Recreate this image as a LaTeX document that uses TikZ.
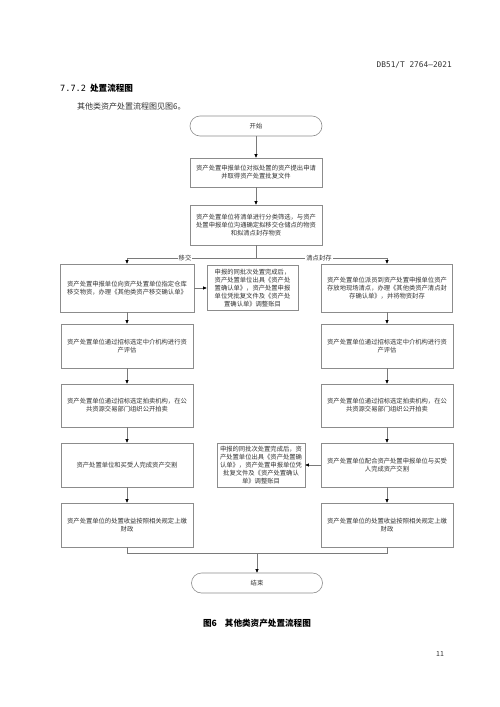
\documentclass[tikz,border=0pt]{standalone}
\usepackage{fontspec}
\setmainfont{Noto Sans CJK SC}
\newfontfamily\cjk{Noto Sans CJK SC}
\newfontfamily\monof{DejaVu Sans Mono}
\usetikzlibrary{arrows.meta}
\definecolor{boxgray}{HTML}{8C8C8C}
\definecolor{linegray}{HTML}{7A7A7A}
\definecolor{textgray}{HTML}{333333}
\tikzset{
  box/.style={draw=boxgray, line width=0.6pt, fill=white, minimum width=132pt, minimum height=44pt, align=center, inner sep=1pt, font=\cjk\fontsize{6.3}{8}\selectfont, text=textgray},
  notebox/.style={box, minimum width=90pt, minimum height=45pt},
  term/.style={box, rounded corners=10pt, minimum height=20pt},
  conn/.style={draw=linegray, line width=0.6pt},
  arr/.style={conn, -{Triangle[length=3.5pt,width=3pt,color=black]}},
  lab/.style={fill=white, inner sep=1pt, font=\cjk\fontsize{6.3}{8}\selectfont, text=textgray},
}
\begin{document}
\begin{tikzpicture}[x=1pt,y=-1pt]
\fill[white] (0,0) rectangle (500,707);
\useasboundingbox (0,0) rectangle (500,707);

% page texts
\node[anchor=east, inner sep=0, font=\monof\fontsize{7.8}{9}\selectfont, text=textgray] (hdr) at (452,65) {DB51/T 2764—2021};
\node[anchor=west, inner sep=0, font=\fontsize{8.6}{10}\selectfont, text=black] (sec) at (60,88) {{\monof 7.7.2}\hspace{4pt}\textbf{处置流程图}};
\node[anchor=west, inner sep=0, font=\fontsize{8}{10}\selectfont, text=textgray] (intro) at (77,106) {其他类资产处置流程图见图6。};
\node[inner sep=0, font=\fontsize{8.6}{10}\selectfont\bfseries, text=black] (cap) at (257,623) {图6\hspace{8pt}其他类资产处置流程图};
\node[inner sep=0, font=\fontsize{7}{9}\selectfont, text=textgray] (pg) at (440,654) {11};

% main column
\node[term] (start) at (256,126) {开始};
\node[box, minimum height=29pt] (b1) at (256,172.5) {资产处置申报单位对拟处置的资产提出申请\\并取得资产处置批复文件};
\node[box, minimum height=40pt] (b2) at (256,225) {资产处置单位将清单进行分类筛选，与资产\\处置申报单位沟通确定拟移交仓储点的物资\\和拟清点封存物资};

% left column
\node[box, minimum width=134pt, minimum height=48pt] (L1) at (127,288) {资产处置申报单位向资产处置单位指定仓库\\移交物资，办理《其他类资产移交确认单》};
\node[box] (L2) at (127,346) {资产处置单位通过招标选定中介机构进行资\\产评估};
\node[box, minimum height=43pt] (L3) at (127,405.5) {资产处置单位通过招标选定拍卖机构，在公\\共资源交易部门组织公开拍卖};
\node[box] (L4) at (127,465) {资产处置单位和买受人完成资产交割};
\node[box] (L5) at (127,525) {资产处置单位的处置收益按照相关规定上缴\\财政};

% right column
\node[box, minimum width=131pt, minimum height=48pt] (R1) at (387,288) {资产处置单位派员到资产处置申报单位资产\\存放地现场清点，办理《其他类资产清点封\\存确认单》，并将物资封存};
\node[box] (R2) at (387,346) {资产处置单位通过招标选定中介机构进行资\\产评估};
\node[box, minimum height=43pt] (R3) at (387,405.5) {资产处置单位通过招标选定拍卖机构，在公\\共资源交易部门组织公开拍卖};
\node[box] (R4) at (387,465) {资产处置单位配合资产处置申报单位与买受\\人完成资产交割};
\node[box] (R5) at (387,525) {资产处置单位的处置收益按照相关规定上缴\\财政};

% middle notes
\node[notebox, minimum width=91pt] (M1) at (252.5,288) {申报的同批次处置完成后，\\资产处置单位出具《资产处\\置确认单》，资产处置申报\\单位凭批复文件及《资产处\\置确认单》调整账目};
\node[notebox, minimum width=88pt, minimum height=44pt] (M2) at (261,465) {申报的同批次处置完成后，资\\产处置单位出具《资产处置确\\认单》，资产处置申报单位凭\\批复文件及《资产处置确认\\单》调整账目};

\node[term, minimum width=131pt] (end) at (257,583) {结束};

% connectors
\coordinate (br) at (256,258);
\coordinate (bl) at (127,258);
\coordinate (brr) at (387,258);
\coordinate (ml) at (127,553);
\coordinate (mr) at (387,553);
\coordinate (mc) at (257,553);

\draw[arr] (start) -- (b1);
\draw[arr] (b1) -- (b2);
\draw[conn] (b2) -- (br);
\draw[arr] (br) -- (bl) -- (L1);
\draw[arr] (br) -- (brr) -- (R1);
\node[lab] (lyj) at (185,258) {移交};
\node[lab] (lqd) at (319,258) {清点封存};

\draw[arr] (L1) -- (M1);
\draw[arr] (L1) -- (L2);
\draw[arr] (L2) -- (L3);
\draw[arr] (L3) -- (L4);
\draw[arr] (L4) -- (L5);
\draw[arr] (R1) -- (R2);
\draw[arr] (R2) -- (R3);
\draw[arr] (R3) -- (R4);
\draw[arr] (R4) -- (R5);
\draw[arr] (R4) -- (M2);

\draw[conn] (L5) -- (ml) -- (mr) -- (R5);
\draw[arr] (mc) -- (end);
\end{tikzpicture}
\end{document}
